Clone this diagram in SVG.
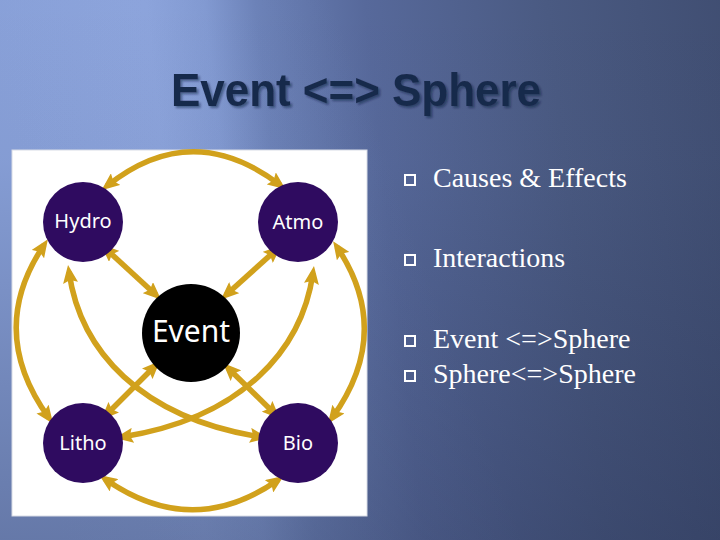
<svg xmlns="http://www.w3.org/2000/svg" width="720" height="540" viewBox="0 0 720 540">
<defs>
<linearGradient id="bg" gradientUnits="userSpaceOnUse" x1="0" y1="0" x2="720" y2="-80">
<stop offset="0" stop-color="#88a0d8"/>
<stop offset="0.2" stop-color="#8aa2da"/>
<stop offset="0.28" stop-color="#8098d0"/>
<stop offset="0.35" stop-color="#6a80b6"/>
<stop offset="0.5" stop-color="#57699b"/>
<stop offset="0.75" stop-color="#4a5a82"/>
<stop offset="1" stop-color="#404e72"/>
</linearGradient>
<linearGradient id="shade" gradientUnits="userSpaceOnUse" x1="0" y1="0" x2="0" y2="540">
<stop offset="0" stop-color="#1c2544" stop-opacity="0"/>
<stop offset="0.3" stop-color="#1c2544" stop-opacity="0.03"/>
<stop offset="1" stop-color="#1c2544" stop-opacity="0.32"/>
</linearGradient>
<linearGradient id="streak" gradientUnits="userSpaceOnUse" x1="60" y1="300" x2="400" y2="180">
<stop offset="0" stop-color="#a0b4e8" stop-opacity="0"/>
<stop offset="0.45" stop-color="#a0b4e8" stop-opacity="0.1"/>
<stop offset="1" stop-color="#a0b4e8" stop-opacity="0"/>
</linearGradient>
<filter id="tshadow" x="-5%" y="-20%" width="110%" height="150%">
<feDropShadow dx="2" dy="2" stdDeviation="1.2" flood-color="#0d1730" flood-opacity="0.45"/>
</filter>
<marker id="ah" viewBox="0 0 18 15" refX="11" refY="7.5" markerWidth="18" markerHeight="15" markerUnits="userSpaceOnUse" orient="auto-start-reverse">
<path d="M0,0 L18,7.5 L0,15 L3,7.5 Z" fill="#d1a11c"/>
</marker>
<style>
.conn{fill:none;stroke:#d1a11c;stroke-width:5.5;marker-start:url(#ah);marker-end:url(#ah)}
.sphere{fill:#2f0b60}
.lbl{font-family:"Noto Sans","DejaVu Sans",sans-serif;fill:#ffffff;text-anchor:middle}
.bul{font-family:"Liberation Serif","Times New Roman",serif;font-size:28px;fill:#ffffff}
.box{fill:none;stroke:#ffffff;stroke-width:2}
.title{font-family:"Liberation Sans",Arial,sans-serif;font-weight:bold;font-size:46px;fill:#19294b}
</style>
</defs>
<rect x="0" y="0" width="720" height="540" fill="url(#bg)"/>
<rect x="0" y="0" width="720" height="540" fill="url(#streak)"/>
<rect x="0" y="0" width="720" height="540" fill="url(#shade)"/>

<g id="title">
<text class="title" x="171" y="106" textLength="370" lengthAdjust="spacingAndGlyphs" filter="url(#tshadow)">Event &lt;=&gt; Sphere</text>
</g>

<rect id="panel" x="12" y="150" width="355" height="366" fill="#ffffff" stroke="#d8dce6" stroke-width="1"/>

<g id="connectors">
<path class="conn" d="M107,186 Q192,118 280,185"/>
<path class="conn" d="M105,479 Q192,540 278,480"/>
<path class="conn" d="M44,245 Q-14,331 49,418"/>
<path class="conn" d="M337,247 Q394,332 332,418"/>
<path class="conn" d="M106,249 L156,295"/>
<path class="conn" d="M276,250 L226,295"/>
<path class="conn" d="M155,366 L106,415"/>
<path class="conn" d="M228,368 L275,414"/>
<path class="conn" d="M69,272 C80,350 140,418 261,437"/>
<path class="conn" d="M313,273 C302,350 242,418 122,437"/>
</g>

<g id="hydro"><circle class="sphere" cx="83" cy="222" r="40"/><text class="lbl" x="83" y="228" font-size="20">Hydro</text></g>
<g id="atmo"><circle class="sphere" cx="298" cy="222" r="40"/><text class="lbl" x="298" y="229" font-size="20">Atmo</text></g>
<g id="event"><circle cx="191" cy="333" r="49" fill="#000000"/><text class="lbl" x="191" y="342" font-size="30">Event</text></g>
<g id="litho"><circle class="sphere" cx="83" cy="443" r="40"/><text class="lbl" x="83" y="450" font-size="20">Litho</text></g>
<g id="bio"><circle class="sphere" cx="298" cy="443" r="40"/><text class="lbl" x="298" y="450" font-size="20">Bio</text></g>

<g id="bullets">
<rect class="box" x="405" y="175" width="10" height="10"/>
<text class="bul" x="433" y="187">Causes &amp; Effects</text>
<rect class="box" x="405" y="255" width="10" height="10"/>
<text class="bul" x="433" y="267">Interactions</text>
<rect class="box" x="405" y="336" width="10" height="10"/>
<text class="bul" x="433" y="348">Event &lt;=&gt;Sphere</text>
<rect class="box" x="405" y="371" width="10" height="10"/>
<text class="bul" x="433" y="383">Sphere&lt;=&gt;Sphere</text>
</g>
</svg>
